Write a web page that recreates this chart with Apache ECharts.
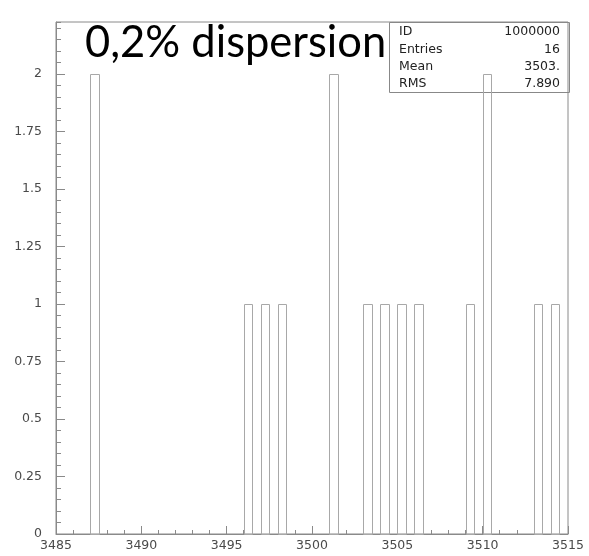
<!DOCTYPE html>
<html>
<head>
<meta charset="utf-8">
<script src="https://cdn.jsdelivr.net/npm/echarts@6/dist/echarts.min.js"></script>
<style>html,body{margin:0;padding:0;background:#fff}#c{width:589px;height:556px}</style>
</head>
<body>
<div id="c"></div>
<script>
const titleText = '0,2% dispersion';
const binLow = [3487, 3496, 3497, 3498, 3501, 3503, 3504, 3505, 3506, 3509, 3510, 3513, 3514];
const counts = [2, 1, 1, 1, 2, 1, 1, 1, 1, 1, 2, 1, 1];
const binWidth = 0.5;
const xMin = 3485, xMax = 3515, xStep = 5;
const yMin = 0, yMax = 2.225, yStep = 0.25, yMinorStep = 0.05;
const statsLabels = ['ID', 'Entries', 'Mean', 'RMS'];
const statsValues = ['1000000', '16', '3503.', '7.890'];

const chart = echarts.init(document.getElementById('c'));
const data = binLow.map((lo, i) => [lo, lo + binWidth, counts[i]]);
const axisColor = '#8a8a8a';
const labelStyle = { color: '#4a4a4a', fontFamily: 'DejaVu Sans', fontSize: 12.5 };

const statsGraphics = [{
  type: 'rect', shape: { x: 389.5, y: 22.5, width: 180, height: 70 },
  style: { fill: 'none', stroke: '#888', lineWidth: 1 }, z: 1
}];
statsLabels.forEach((t, i) => {
  statsGraphics.push({ type: 'text', x: 399, y: 32 + i * 17.3, z: 101,
    style: { text: t, fill: '#222', font: '12.5px "DejaVu Sans"', align: 'left', verticalAlign: 'middle' } });
  statsGraphics.push({ type: 'text', x: 560, y: 32 + i * 17.3, z: 101,
    style: { text: statsValues[i], fill: '#222', font: '12.5px "DejaVu Sans"', align: 'right', verticalAlign: 'middle' } });
});

chart.setOption({
  animation: false,
  grid: { left: 56, right: 21, top: 22, bottom: 22, show: true, borderColor: axisColor, borderWidth: 1, containLabel: false },
  xAxis: {
    type: 'value', min: xMin, max: xMax, interval: xStep,
    axisLine: { show: true, lineStyle: { color: axisColor } },
    axisTick: { show: true, inside: true, length: 8, lineStyle: { color: axisColor } },
    minorTick: { show: true, splitNumber: 5, length: 4, lineStyle: { color: axisColor } },
    splitLine: { show: false },
    axisLabel: Object.assign({ margin: 5, formatter: v => String(v) }, labelStyle)
  },
  yAxis: [{
    type: 'value', min: yMin, max: yMax, interval: yStep,
    axisLine: { show: true, lineStyle: { color: axisColor } },
    axisTick: { show: true, inside: true, length: 9, lineStyle: { color: axisColor } },
    splitLine: { show: false },
    axisLabel: Object.assign({ margin: 14, showMaxLabel: false, formatter: v => String(v) }, labelStyle)
  }, {
    type: 'value', min: yMin, max: yMax, interval: yMinorStep, position: 'left',
    axisLine: { show: false },
    axisTick: { show: true, inside: true, length: 5, lineStyle: { color: axisColor } },
    splitLine: { show: false },
    axisLabel: { show: false }
  }],
  series: [{
    type: 'custom',
    z: 10,
    data: data,
    renderItem: function (params, api) {
      const p0 = api.coord([api.value(0), api.value(2)]);
      const p1 = api.coord([api.value(1), 0]);
      const x0 = Math.round(p0[0]) + 0.5, x1 = Math.round(p1[0]) + 0.5;
      const y0 = Math.round(p0[1]) + 0.5, y1 = Math.round(p1[1]) + 0.5;
      return { type: 'rect', shape: { x: x0, y: y0, width: x1 - x0, height: y1 - y0 },
        style: { fill: 'none', stroke: '#a8a8a8', lineWidth: 1 } };
    },
    encode: { x: [0, 1], y: 2 }
  }],
  graphic: [{
    type: 'text', x: 85, y: 42.5, z: 50,
    style: { text: titleText, fill: '#000', font: '43.5px Lato', align: 'left', verticalAlign: 'middle' }
  }].concat(statsGraphics)
});
</script>
</body>
</html>
